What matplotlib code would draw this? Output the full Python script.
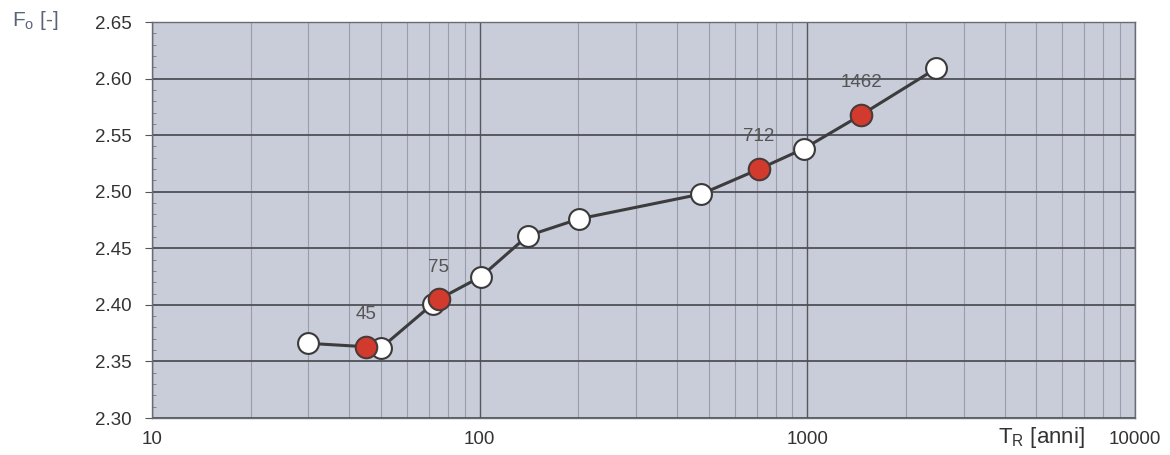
import matplotlib
matplotlib.use("Agg")
import matplotlib.pyplot as plt
from matplotlib.ticker import FixedLocator, NullFormatter, MultipleLocator

plt.rcParams['font.family'] = ['Liberation Sans', 'DejaVu Sans']

# Data
tr_all = [30, 45, 50, 72, 75, 101, 140, 201, 475, 712, 975, 1462, 2475]
fo_all = [2.366, 2.363, 2.362, 2.401, 2.405, 2.425, 2.461, 2.476, 2.498, 2.520, 2.538, 2.568, 2.609]
tr_white = [30, 50, 72, 101, 140, 201, 475, 975, 2475]
fo_white = [2.366, 2.362, 2.401, 2.425, 2.461, 2.476, 2.498, 2.538, 2.609]
tr_red = [45, 75, 712, 1462]
fo_red = [2.363, 2.405, 2.520, 2.568]
red_labels = ["45", "75", "712", "1462"]
y_ticks = [2.30, 2.35, 2.40, 2.45, 2.50, 2.55, 2.60, 2.65]
x_ticks = [10, 100, 1000, 10000]

fig = plt.figure(figsize=(11.7, 4.55), dpi=100)
ax = fig.add_axes([0.130, 0.0813, 0.840, 0.8703])
ax.set_facecolor('#c9ccd9')
ax.set_xscale('log')
ax.set_xlim(10, 10000)
ax.set_ylim(2.30, 2.65)

# grid
minor_x = [m * 10**e for e in (1, 2, 3) for m in range(2, 10)]
ax.xaxis.set_minor_locator(FixedLocator(minor_x))
ax.xaxis.set_minor_formatter(NullFormatter())
ax.set_xticks(x_ticks)
ax.set_xticklabels([str(v) for v in x_ticks])
ax.set_yticks(y_ticks)
ax.set_yticklabels([f"{v:.2f}" for v in y_ticks])
ax.yaxis.set_minor_locator(MultipleLocator(0.01))
ax.grid(which='minor', axis='x', color='#9a9caa', lw=0.8)
ax.grid(which='major', axis='x', color='#55575e', lw=1.0)
ax.grid(which='major', axis='y', color='#4e5057', lw=1.3)
ax.set_axisbelow(True)

for s in ax.spines.values():
    s.set_color('#6a6c74')
    s.set_linewidth(1.0)

ax.tick_params(axis='y', which='major', length=5, color='#555', labelsize=13.5,
               labelcolor='#333', pad=10)
ax.tick_params(axis='y', which='minor', length=3, color='#777', direction='in')
ax.tick_params(axis='x', which='major', length=0, labelsize=13.5, labelcolor='#333', pad=9)
ax.tick_params(axis='x', which='minor', length=0)

ax.plot(tr_all, fo_all, color='#3c3c3c', lw=2.2, zorder=2)
ax.plot(tr_white, fo_white, ls='none', marker='o', ms=15, mfc='white',
        mec='#3a3a3a', mew=1.5, zorder=3)
ax.plot(tr_red, fo_red, ls='none', marker='o', ms=15.5, mfc='#d23a2e',
        mec='#4a3a3a', mew=1.5, zorder=4)

for x, y, t in zip(tr_red, fo_red, red_labels):
    ax.annotate(t, (x, y), xytext=(0, 17), textcoords='offset points',
                ha='center', va='bottom', fontsize=13.5, color='#555')

fig.text(12 / 1170, 1 - 20 / 455, r"F$_\mathregular{o}$ [-]", fontsize=15,
         color='#5a6478', ha='left', va='center')
fig.text(998 / 1170, 1 - 438 / 455, r"T$_\mathregular{R}$ [anni]", fontsize=16,
         color='#333', ha='left', va='center')

fig.savefig("out.png", dpi=100)
